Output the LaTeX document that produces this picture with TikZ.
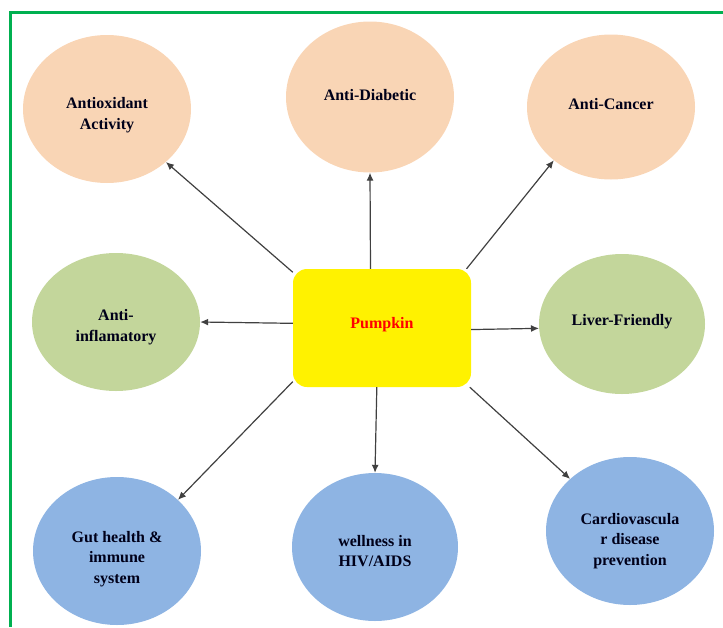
\documentclass[tikz,border=0pt]{standalone}
\usepackage{fontspec}
\setmainfont{Liberation Serif}
\usetikzlibrary{arrows.meta}
\usetikzlibrary{shapes.geometric}

\definecolor{peach}{RGB}{249,213,181}
\definecolor{sage}{RGB}{195,214,155}
\definecolor{softblue}{RGB}{142,180,227}
\definecolor{framegreen}{RGB}{0,176,80}

\begin{document}
\begin{tikzpicture}[
    x=1pt, y=-1pt,
    every node/.style={font=\fontsize{16}{20.5}\selectfont\bfseries, align=center, text=black!90!blue},
    bubble/.style={ellipse, inner sep=0pt, minimum width=168pt, minimum height=148pt},
    peachbubble/.style={bubble, fill=peach},
    greenbubble/.style={bubble, fill=sage, minimum height=138pt},
    bluebubble/.style={bubble, fill=softblue},
    hub/.style={rectangle, rounded corners=14pt, fill=yellow, minimum width=178pt, minimum height=118pt},
    link/.style={-{Latex[length=8pt,width=7pt]}, draw=black!75, line width=1.2pt}]

\useasboundingbox (0,0) rectangle (723,627);
\draw[framegreen, line width=3.5pt] (10.5,627) -- (10.5,12.5) -- (723,12.5);

% Nodes
\node[hub, label={[yshift=3pt, text=red]center:Pumpkin}] (pumpkin) at (382,328) {};
\node[peachbubble, label={[yshift=-6pt]center:Antioxidant\\Activity}] (antiox) at (107,109) {};
\node[peachbubble, minimum height=151pt, label={[yshift=2pt]center:Anti-Diabetic}] (diabetic) at (370,97) {};
\node[peachbubble, minimum height=145pt, label={[yshift=3pt]center:Anti-Cancer}] (cancer) at (611,107) {};
\node[greenbubble, label={[yshift=-5pt]center:Anti-\\inflamatory}] (inflam) at (116,322) {};
\node[greenbubble, minimum width=166pt, minimum height=140pt, label={[yshift=2pt]center:Liver-Friendly}] (liver) at (622,324) {};
\node[bluebubble, label={[yshift=-8pt]center:Gut health \&\\immune\\system}] (gut) at (117,551) {};
\node[bluebubble, minimum width=166pt, label={[yshift=-4pt]center:wellness in\\HIV/AIDS}] (wellness) at (375,547) {};
\node[bluebubble, label={[yshift=-10pt]center:Cardiovascula\\r disease\\prevention}] (cardio) at (630,531) {};

% Arrows
\draw[link] (pumpkin.148) -- (antiox.-42);
\draw[link] (pumpkin.101) -- (diabetic.south);
\draw[link] (pumpkin.35) -- (cancer.223);
\draw[link] (pumpkin.177) -- (inflam.east);
\draw[link] (pumpkin.-1) -- (liver.183);
\draw[link] (pumpkin.211) -- (gut.40);
\draw[link] (pumpkin.265) -- (wellness.north);
\draw[link] (pumpkin.-34) -- (cardio.139);
\end{tikzpicture}
\end{document}
